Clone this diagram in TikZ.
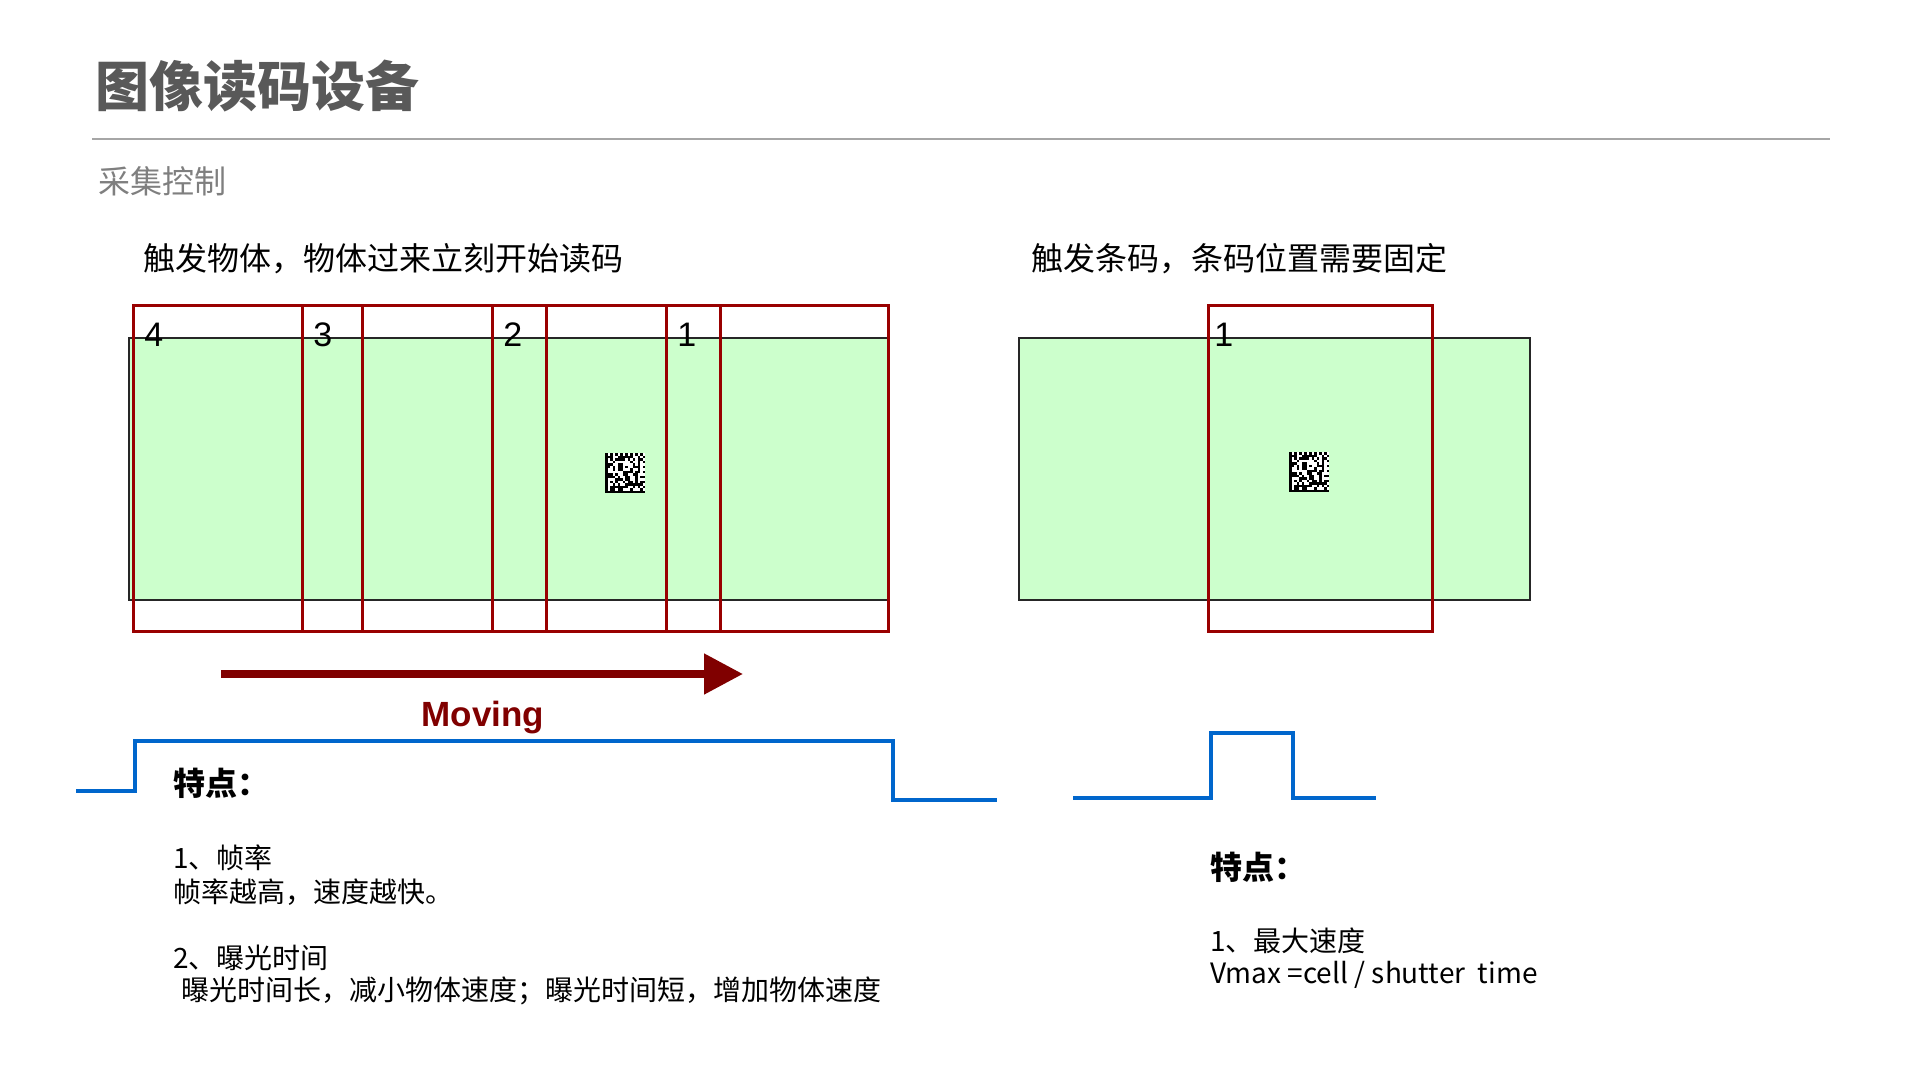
\documentclass[tikz,border=0pt]{standalone}
\usepackage{fontspec}
\setmainfont{Noto Sans CJK SC}
\newfontfamily\arialfont{Liberation Sans}
\usetikzlibrary{arrows.meta}
\definecolor{myRed}{HTML}{990000}
\definecolor{myMaroon}{HTML}{800000}
\definecolor{myGreen}{HTML}{CCFFCC}
\definecolor{myBlue}{HTML}{0066CC}
\definecolor{myGray}{HTML}{595959}
\definecolor{myLightGray}{HTML}{7F7F7F}
\definecolor{myRule}{HTML}{A6A6A6}

% small data matrix code, 16x16 cells of 2.5px
\newcommand{\dmcode}[2]{%
  \begin{scope}[shift={(#1,#2)}]
    \pgfmathsetseed{17}
    \fill[white] (0,0) rectangle (40,40);
    \fill[black] (0,0) rectangle (2.5,40);
    \fill[black] (0,37.5) rectangle (40,40);
    \foreach \k in {0,2,...,14} {
      \fill[black] (\k*2.5,0) rectangle ++(2.5,2.5);
      \fill[black] (37.5,\k*2.5+2.5) rectangle ++(2.5,2.5);
    }
    \foreach \r in {1,...,14} {
      \foreach \c in {1,...,14} {
        \pgfmathrandominteger{\bit}{0}{1}
        \ifnum\bit=1 \fill[black] (\c*2.5,\r*2.5) rectangle ++(2.5,2.5);\fi
      }
    }
  \end{scope}}

\begin{document}
\begin{tikzpicture}[x=0.5pt, y=-0.5pt, >=latex]

  \tikzstyle{T}=[anchor=west, inner sep=0pt, font=\fontsize{16pt}{19pt}\selectfont]
  \tikzstyle{L}=[anchor=west, inner sep=0pt, font=\fontsize{14pt}{17pt}\selectfont]
  \tikzstyle{H}=[anchor=west, inner sep=0pt, font=\fontsize{16pt}{19pt}\selectfont\bfseries]
  \tikzstyle{N}=[anchor=west, inner sep=0pt, font=\arialfont\fontsize{17pt}{19pt}\selectfont]
  \tikzstyle{F}=[draw=myRed, line width=1.5pt]
  \tikzstyle{G}=[fill=myGreen, draw=black!85, line width=0.8pt]
  \tikzstyle{S}=[draw=myBlue, line width=2pt]

  \useasboundingbox (0,0) rectangle (1920,1080);

  \node[anchor=west, inner sep=0pt, text=myGray, font=\fontsize{27pt}{32pt}\selectfont\bfseries] at (95,86) (title) {图像读码设备};
  \draw[myRule, line width=1.2pt] (92,139) -- (1830,139);
  \node[T, text=myLightGray] at (98,181) (sub) {采集控制};

  \node[T] at (143,259) (headL) {触发物体，物体过来立刻开始读码};
  \node[T] at (1031,259) (headR) {触发条码，条码位置需要固定};

  % trigger on object
  \draw[G] (129,338) rectangle (888,600);
  \dmcode{605}{453}
  \foreach \l/\r/\n in {133/362/4, 302/546/3, 492/720/2, 666/888/1} {
    \draw[F] (\l,306) rectangle (\r,631);
    \node[N] at (\l+11,335) (frame\n) {\n};
  }

  % trigger on code
  \draw[G] (1019,338) rectangle (1530,600);
  \dmcode{1289}{452}
  \draw[F] (1208,306) rectangle (1432,631);
  \node[N] at (1214,335) (frameR) {1};

  \coordinate (moveA) at (221,674);
  \coordinate (moveB) at (743,674);
  \draw[myMaroon, line width=4pt, -{Triangle[length=19.5pt,width=19.5pt]}] (moveA) -- (moveB);
  \node[inner sep=0pt, text=myMaroon, font=\arialfont\fontsize{17.5pt}{20pt}\selectfont\bfseries] at (483,718) (moving) {Moving};

  \draw[S] (76,791) -- (135,791) -- (135,741) -- (893,741) -- (893,800) -- (997,800);
  \draw[S] (1073,798) -- (1211,798) -- (1211,733) -- (1293,733) -- (1293,798) -- (1376,798);

  \node[H] at (173,783) (featL) {特点：};
  \node[L] at (173,858) (rate) {1、帧率};
  \node[L] at (173,892) (rateTxt) {帧率越高，速度越快。};
  \node[L] at (173,958) (expo) {2、曝光时间};
  \node[L] at (181,991) (expoTxt) {曝光时间长，减小物体速度；曝光时间短，增加物体速度};

  \node[H] at (1210,867) (featR) {特点：};
  \node[L] at (1210,941) (vmax) {1、最大速度};
  \node[L] at (1210,975) (vmaxTxt) {Vmax =cell / shutter\ \ time};

\end{tikzpicture}
\end{document}
